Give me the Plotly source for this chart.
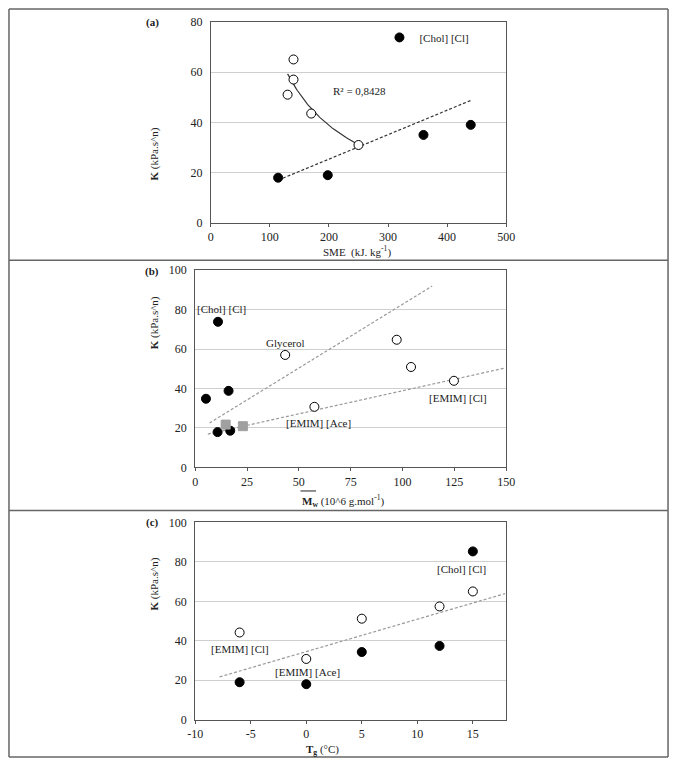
import numpy as np
import plotly.graph_objects as go

W, H = 678, 765

# ---------------- data ----------------
# panel (a): K vs SME
a_chol_x = [114, 198, 360, 440]
a_chol_y = [18, 19, 35, 39]
a_open_x = [130, 140, 140, 170, 250]
a_open_y = [51, 57, 65, 43.5, 31]
a_lin_x = [122, 441]
a_lin_y = [17.8, 48.8]
a_r2_text = "R² = 0,8428"
a_xticks = [0, 100, 200, 300, 400, 500]

# panel (b): K vs Mw
b_chol_x = [11, 5.2, 16.1, 10.8, 16.9]
b_chol_y = [73.8, 34.8, 38.8, 17.9, 18.6]
b_sq_x = [14.7, 23.0]
b_sq_y = [21.7, 20.9]
b_open_x = [43.4, 57.5, 97.2, 104.1, 124.8]
b_open_y = [57.0, 30.7, 64.7, 50.9, 43.9]
b_line1_x = [6.9, 114.3]
b_line1_y = [22.5, 91.9]
b_line2_x = [6.1, 149.5]
b_line2_y = [16.9, 50.4]
b_labels = ["[Chol] [Cl]", "Glycerol", "[EMIM] [Cl]", "[EMIM] [Ace]"]
b_label_x = [12.9, 43.4, 126.8, 59.4]
b_label_y = [80.2, 62.8, 35.2, 22.4]
b_xticks = [0, 25, 50, 75, 100, 125, 150]

# panel (c): K vs Tg
c_x = [-6, 0, 5, 12, 15]
c_chol_y = [19.0, 18.0, 34.3, 37.4, 85.3]
c_open_y = [44.2, 30.8, 51.2, 57.4, 65.0]
c_line_x = [-7.8, 17.9]
c_line_y = [21.7, 63.9]
c_labels = ["[Chol] [Cl]", "[EMIM] [Cl]", "[EMIM] [Ace]"]
c_label_x = [14.0, -6.0, 0.15]
c_label_y = [76.2, 35.9, 24.2]
c_xticks = [-10, -5, 0, 5, 10, 15]
c_xticktext = ["-10", "-5", "0", "5", "10", "15"]

FONT = "Liberation Serif"
TXT = "#222222"

def px(x):
    return x / W

def py(y):
    return 1 - y / H

fig = go.Figure()

filled = dict(symbol="circle", size=9, color="black", line=dict(color="black", width=1))
opened = dict(symbol="circle", size=9, color="white", line=dict(color="black", width=1))

# ---- panel (a) traces ----
lx = np.log(a_open_x)
ly = np.log(a_open_y)
b_pow, ln_a = np.polyfit(lx, ly, 1)
curve_x = np.linspace(min(a_open_x), max(a_open_x), 60)
curve_y = np.exp(ln_a) * curve_x ** b_pow

fig.add_trace(go.Scatter(x=curve_x, y=curve_y, mode="lines",
                         line=dict(color="#333333", width=1.2),
                         xaxis="x", yaxis="y", showlegend=False, hoverinfo="skip"))
fig.add_trace(go.Scatter(x=a_lin_x, y=a_lin_y, mode="lines",
                         line=dict(color="#333333", width=1.2, dash="3px,2px"),
                         xaxis="x", yaxis="y", showlegend=False, hoverinfo="skip"))
fig.add_trace(go.Scatter(x=a_open_x, y=a_open_y, mode="markers", marker=opened,
                         xaxis="x", yaxis="y", showlegend=False))
fig.add_trace(go.Scatter(x=a_chol_x, y=a_chol_y, mode="markers", marker=filled,
                         name="[Chol] [Cl]", xaxis="x", yaxis="y", showlegend=True))

# ---- panel (b) traces ----
for lxs, lys in [(b_line1_x, b_line1_y), (b_line2_x, b_line2_y)]:
    fig.add_trace(go.Scatter(x=lxs, y=lys, mode="lines",
                             line=dict(color="#999999", width=1.2, dash="3px,2px"),
                             xaxis="x2", yaxis="y2", showlegend=False, hoverinfo="skip"))
fig.add_trace(go.Scatter(x=b_open_x, y=b_open_y, mode="markers", marker=opened,
                         xaxis="x2", yaxis="y2", showlegend=False))
fig.add_trace(go.Scatter(x=b_chol_x, y=b_chol_y, mode="markers", marker=filled,
                         xaxis="x2", yaxis="y2", showlegend=False))
fig.add_trace(go.Scatter(x=b_sq_x, y=b_sq_y, mode="markers",
                         marker=dict(symbol="square", size=9, color="#a0a0a0",
                                     line=dict(color="#a0a0a0", width=1)),
                         xaxis="x2", yaxis="y2", showlegend=False))

# ---- panel (c) traces ----
fig.add_trace(go.Scatter(x=c_line_x, y=c_line_y, mode="lines",
                         line=dict(color="#999999", width=1.2, dash="3px,2px"),
                         xaxis="x3", yaxis="y3", showlegend=False, hoverinfo="skip"))
fig.add_trace(go.Scatter(x=c_x, y=c_open_y, mode="markers", marker=opened,
                         xaxis="x3", yaxis="y3", showlegend=False))
fig.add_trace(go.Scatter(x=c_x, y=c_chol_y, mode="markers", marker=filled,
                         xaxis="x3", yaxis="y3", showlegend=False))

# ---------------- axes ----------------
def xax(dom, rng, tickvals, anchor, ticktext=None):
    d = dict(domain=dom, range=rng, tickvals=tickvals, anchor=anchor,
             showline=True, linecolor="#555555", linewidth=1, mirror=True,
             ticks="outside", ticklen=3, tickcolor="#555555",
             showgrid=False, zeroline=False,
             tickfont=dict(family=FONT, size=12, color=TXT))
    if ticktext is not None:
        d["ticktext"] = ticktext
    return d

def yax(dom, rng, dtick, anchor):
    return dict(domain=dom, range=rng, dtick=dtick, anchor=anchor,
                showline=True, linecolor="#555555", linewidth=1, mirror=True,
                ticks="", showgrid=True, gridcolor="#cfcfcf", gridwidth=1,
                zeroline=False, ticklabelstandoff=5,
                tickfont=dict(family=FONT, size=12, color=TXT))

xa_dom = [px(208), px(511)]
xb_dom = [px(192), px(511)]
ya_dom = [py(220), py(15)]
yb_dom = [py(469), py(268)]
yc_dom = [py(726), py(525)]

annotations = []

def ann(text, x, y, xref="paper", yref="paper", size=11, angle=0, xanchor="center", yanchor="middle"):
    annotations.append(dict(text=text, x=x, y=y, xref=xref, yref=yref, showarrow=False,
                            textangle=angle, xanchor=xanchor, yanchor=yanchor,
                            font=dict(family=FONT, size=size, color=TXT)))

# panel labels
ann("<b>(a)</b>", px(148), py(16), size=11)
ann("<b>(b)</b>", px(148), py(269), size=11)
ann("<b>(c)</b>", px(148), py(525), size=11)

# y titles
ytitle = "<b>K</b> (kPa.s^n)"
ann(ytitle, px(150), py(150), size=11, angle=-90)
ann(ytitle, px(150), py(322), size=11, angle=-90)
ann(ytitle, px(150), py(588), size=11, angle=-90)

# x titles
ann("SME  (kJ. kg<sup>-1</sup>)", px(358), py(249), size=11)
ann("<b>M<sub>w</sub></b> (10^6 g.mol<sup>-1</sup>)", px(300), py(503), size=11, xanchor="left")
ann("<b>T<sub>g</sub></b> (°C)", px(304), py(757), size=11, xanchor="left")

# in-plot labels
annotations.append(dict(text=a_r2_text, x=203, y=52.5, xref="x", yref="y", showarrow=False,
                        xanchor="left", yanchor="middle",
                        font=dict(family=FONT, size=11, color=TXT)))
for t, x, y in zip(b_labels, b_label_x, b_label_y):
    ann(t, x, y, xref="x2", yref="y2")
for t, x, y in zip(c_labels, c_label_x, c_label_y):
    ann(t, x, y, xref="x3", yref="y3")

# frame shapes
shapes = []
frame = dict(type="line", xref="paper", yref="paper", line=dict(color="#666666", width=1.5))
for yy in [2, 258, 513, 764]:
    s = dict(frame); s.update(x0=px(1), x1=px(677), y0=py(yy), y1=py(yy)); shapes.append(s)
for xx in [1, 677]:
    s = dict(frame); s.update(x0=px(xx), x1=px(xx), y0=py(2), y1=py(764)); shapes.append(s)
# overline for Mw
shapes.append(dict(type="line", xref="paper", yref="paper",
                   x0=px(300), x1=px(316), y0=py(493), y1=py(493),
                   line=dict(color="#222222", width=1)))

fig.update_layout(
    width=W, height=H,
    margin=dict(l=0, r=0, t=0, b=0),
    paper_bgcolor="white", plot_bgcolor="white",
    font=dict(family=FONT, size=11, color=TXT),
    xaxis=xax(xa_dom, [0, 500], a_xticks, "y"),
    yaxis=yax(ya_dom, [0, 80], 20, "x"),
    xaxis2=xax(xb_dom, [0, 150], b_xticks, "y2"),
    yaxis2=yax(yb_dom, [0, 100], 20, "x2"),
    xaxis3=xax(xb_dom, [-10, 18], c_xticks, "y3", c_xticktext),
    yaxis3=yax(yc_dom, [0, 100], 20, "x3"),
    legend=dict(x=px(381), y=py(31), xanchor="left", yanchor="middle",
                bgcolor="rgba(0,0,0,0)", font=dict(family=FONT, size=11, color=TXT),
                itemwidth=30, tracegroupgap=0),
    annotations=annotations,
    shapes=shapes,
)

fig.write_html("out.html")
